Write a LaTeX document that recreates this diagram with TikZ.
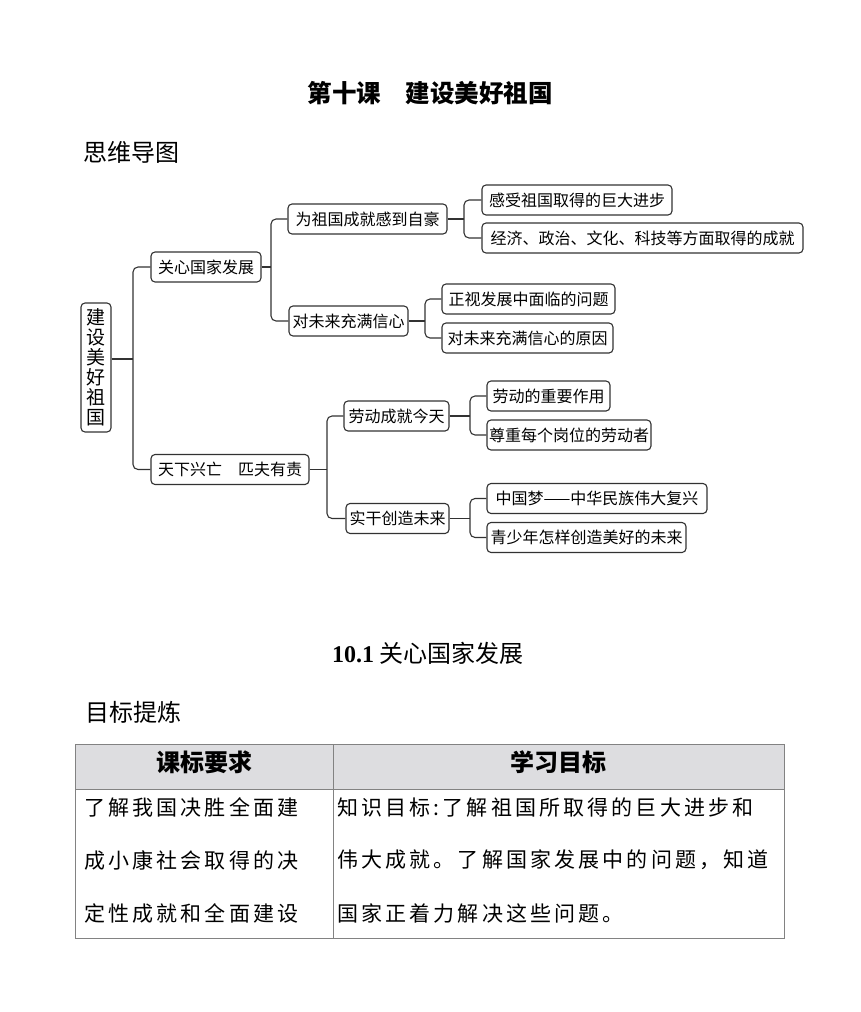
\documentclass[tikz,border=0pt]{standalone}
\usepackage{fontspec}
\setmainfont{Noto Sans CJK SC}
\newfontfamily\tnr{Liberation Serif}
\newfontfamily\kai[LetterSpace=15]{Noto Sans CJK SC}
\definecolor{linec}{RGB}{50,50,50}
\definecolor{tabline}{RGB}{130,130,130}
\definecolor{headfill}{RGB}{221,221,224}
\tikzset{
  box/.style={draw=linec, line width=1.1pt, rounded corners=4pt, minimum height=30pt,
    inner sep=0pt, font=\fontsize{16}{18}\selectfont, text=black},
  conn/.style={draw=linec, line width=1.1pt, rounded corners=5pt},
  plain/.style={inner sep=0pt, anchor=west},
  tline/.style={draw=tabline, line width=1pt},
  body/.style={inner sep=0pt, anchor=west, font=\fontsize{21}{23}\selectfont\kai},
}
\begin{document}
\begin{tikzpicture}[x=1pt,y=-1pt]
\useasboundingbox (0,0) rectangle (860,1012);

% titles
\node[inner sep=0pt, font=\fontsize{24.5}{26}\selectfont\bfseries] (title) at (430,93) {第十课　建设美好祖国};
\node[plain, font=\fontsize{24}{26}\selectfont] (mm) at (83,152) {思维导图};

% mind map
\node[box, minimum width=30pt, minimum height=129pt, align=center,
  font=\fontsize{19}{20}\selectfont] (root) at (96,367.5) {建\\设\\美\\好\\祖\\国};
\node[box, minimum width=110pt] (a) at (206,267) {关心国家发展};
\node[box, minimum width=159pt] (a1) at (367.5,219) {为祖国成就感到自豪};
\node[box, minimum width=119pt] (a2) at (348.5,321) {对未来充满信心};
\node[box, minimum width=190pt] (a11) at (577,200) {感受祖国取得的巨大进步};
\node[box, minimum width=321pt] (a12) at (642.5,238) {经济、政治、文化、科技等方面取得的成就};
\node[box, minimum width=173pt] (a21) at (528.5,299) {正视发展中面临的问题};
\node[box, minimum width=171pt] (a22) at (527.5,338) {对未来充满信心的原因};

\node[box, minimum width=158pt] (b) at (230,469.5) {天下兴亡　匹夫有责};
\node[box, minimum width=105pt] (b1) at (396.5,416) {劳动成就今天};
\node[box, minimum width=103pt] (b2) at (397.5,518.5) {实干创造未来};
\node[box, minimum width=123pt] (b11) at (548.5,396) {劳动的重要作用};
\node[box, minimum width=164pt] (b12) at (569,435) {尊重每个岗位的劳动者};
\node[box, minimum width=220pt] (b21) at (597,498.5) {中国梦——中华民族伟大复兴};
\node[box, minimum width=199pt] (b22) at (586.5,537.5) {青少年怎样创造美好的未来};

% junctions
\coordinate (j0) at (133,359);
\coordinate (j1) at (271,267);
\coordinate (j2) at (464,219);
\coordinate (j3) at (425,321);
\coordinate (j4) at (327,469.5);
\coordinate (j5) at (470,416);
\coordinate (j6) at (470,518.5);

\draw[conn] (root.east |- j0) -- (j0);
\draw[conn] (a.west) -| (j0) |- (b.west);
\draw[conn] (a.east) -- (j1);
\draw[conn] (a1.west) -| (j1) |- (a2.west);
\draw[conn] (a1.east) -- (j2);
\draw[conn] (a11.west) -| (j2) |- (a12.west);
\draw[conn] (a2.east) -- (j3);
\draw[conn] (a21.west) -| (j3) |- (a22.west);
\draw[conn] (b.east) -- (j4);
\draw[conn] (b1.west) -| (j4) |- (b2.west);
\draw[conn] (b1.east) -- (j5);
\draw[conn] (b11.west) -| (j5) |- (b12.west);
\draw[conn] (b2.east) -- (j6);
\draw[conn] (b21.west) -| (j6) |- (b22.west);

% section heading
\node[plain, font=\fontsize{24}{26}\selectfont] (sec) at (332,653) {{\tnr\bfseries 10.1} 关心国家发展};
\node[plain, font=\fontsize{24}{26}\selectfont] (goal) at (85,712) {目标提炼};

% table
\fill[headfill] (75,744) rectangle (784,789);
\draw[tline] (75,744) rectangle (784,938);
\draw[tline] (75,789) -- (784,789);
\draw[tline] (333,744) -- (333,938);

\node[inner sep=0pt, font=\fontsize{24}{26}\selectfont\bfseries] (h1) at (204,762) {课标要求};
\node[inner sep=0pt, font=\fontsize{24}{26}\selectfont\bfseries] (h2) at (558,762) {学习目标};

\node[body] (l1) at (84,807) {了解我国决胜全面建};
\node[body] (l2) at (84,860) {成小康社会取得的决};
\node[body] (l3) at (84,913) {定性成就和全面建设};
\node[body] (r1) at (337,807) {知识目标:了解祖国所取得的巨大进步和};
\node[body] (r2) at (337,860) {伟大成就。了解国家发展中的问题，知道};
\node[body] (r3) at (337,913) {国家正着力解决这些问题。};
\end{tikzpicture}
\end{document}
